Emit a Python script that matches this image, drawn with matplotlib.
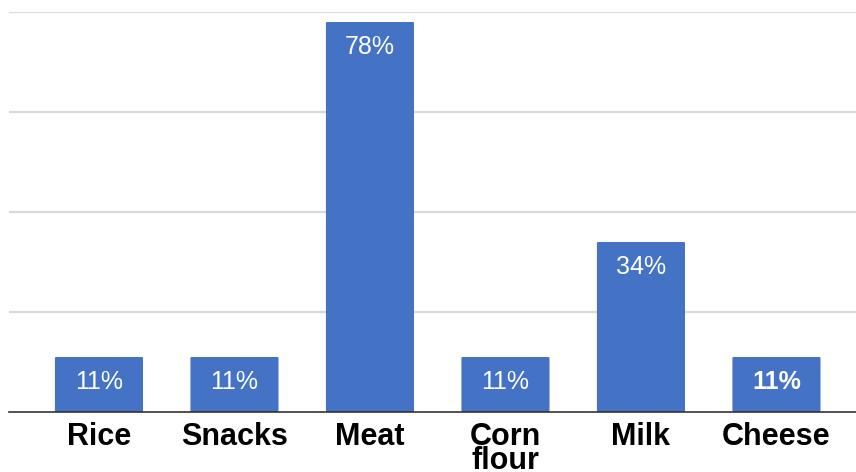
import matplotlib
matplotlib.use("Agg")
import matplotlib.pyplot as plt
from matplotlib.patches import FancyBboxPatch

foods = ["Rice", "Snacks", "Meat", "Corn\nflour", "Milk", "Cheese"]
shares = [11, 11, 78, 11, 34, 11]

bar_color = "#4472C4"

fig = plt.figure(figsize=(8.56, 4.72), dpi=100)
ax = fig.add_axes([9 / 856, 1 - 412 / 472, 1 - 9 / 856, 400 / 472])

x = list(range(len(foods)))
bars = ax.bar(x, shares, width=0.65, color=bar_color, zorder=3)

# swap the plain rectangles for slightly rounded ones
for b in bars:
    b.set_visible(False)
    ax.add_patch(FancyBboxPatch((b.get_x(), 0), b.get_width(), b.get_height(),
                                boxstyle="round,pad=0,rounding_size=0.015",
                                mutation_aspect=80 / 5.6 * 0.6,
                                facecolor=bar_color, edgecolor="none", zorder=3))

for i, v in enumerate(shares):
    ax.annotate(f"{v}%", (i, v), xytext=(0, -18), textcoords="offset points",
                ha="center", va="center", color="white", fontsize=18,
                family="Liberation Sans",
                fontweight="bold" if foods[i] == "Cheese" else "normal", zorder=4)

ax.set_xlim(-0.664, 5.587)
ax.set_ylim(0, 80)
ax.set_yticks([20, 40, 60, 80])
ax.yaxis.grid(True, color="#d9d9d9", linewidth=1.6, zorder=0)
ax.tick_params(axis="y", left=False, labelleft=False)
ax.tick_params(axis="x", length=0, pad=7)
ax.set_xticks(x)
ax.set_xticklabels(foods, fontsize=22, fontweight="bold", family="Liberation Sans",
                   linespacing=0.74, va="top")

for side in ["top", "right", "left"]:
    ax.spines[side].set_visible(False)
ax.spines["bottom"].set_color("#333333")
ax.spines["bottom"].set_linewidth(1.2)
ax.spines["bottom"].set_zorder(5)

fig.savefig("out.png", dpi=100)
